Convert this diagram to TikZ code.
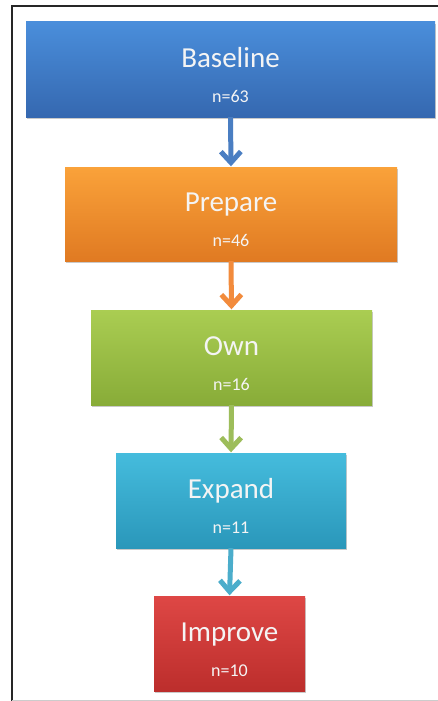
\documentclass[tikz,border=0pt]{standalone}
\usepackage{fontspec}
\setmainfont{Carlito}
\usetikzlibrary{arrows.meta,shadows}
\definecolor{bluetop}{HTML}{4A8EDB}
\definecolor{bluebot}{HTML}{3568B0}
\definecolor{orgtop}{HTML}{FAA23A}
\definecolor{orgbot}{HTML}{E07A22}
\definecolor{grntop}{HTML}{AACD52}
\definecolor{grnbot}{HTML}{88AC38}
\definecolor{cyntop}{HTML}{45BCDD}
\definecolor{cynbot}{HTML}{2A97BA}
\definecolor{redtop}{HTML}{DE4745}
\definecolor{redbot}{HTML}{BC2E2C}
\definecolor{bluearr}{HTML}{4A7EC2}
\definecolor{orgarr}{HTML}{F28B3C}
\definecolor{grnarr}{HTML}{9DBD5A}
\definecolor{cynarr}{HTML}{4BADCB}
\definecolor{txtc}{HTML}{F4F4F4}
\tikzset{
  stagebox/.style={rectangle, inner sep=0pt, draw=none,
    drop shadow={shadow xshift=1pt, shadow yshift=-2pt, opacity=0.35, fill=black!60}},
  titletext/.style={text=txtc, font=\fontsize{29}{32}\selectfont, inner sep=0pt, anchor=base},
  ntext/.style={text=txtc, font=\fontsize{18}{20}\selectfont, inner sep=0pt, anchor=base},
  flowarrow/.style={line width=5pt, -{Straight Barb[length=11pt,width=20pt]}, shorten >=0.5pt}
}
\begin{document}
\begin{tikzpicture}[x=1pt,y=-1pt]
\useasboundingbox (0,0) rectangle (438,701);
\fill[white] (0,0) rectangle (438,701);
% frame
\draw[line width=2pt, black!85] (438,6) -- (12,6) -- (12,701);
\draw[line width=1pt, black!20] (12,700) -- (438,700);
% boxes
\node[stagebox, top color=bluetop, bottom color=bluebot, minimum width=409pt, minimum height=95pt] (base) at (230.5,69.5) {};
\node[stagebox, top color=orgtop, bottom color=orgbot, minimum width=332pt, minimum height=94pt] (prep) at (231,214) {};
\node[stagebox, top color=grntop, bottom color=grnbot, minimum width=281pt, minimum height=95pt] (own) at (231.5,357.5) {};
\node[stagebox, top color=cyntop, bottom color=cynbot, minimum width=230pt, minimum height=95pt] (exp) at (231,500.5) {};
\node[stagebox, top color=redtop, bottom color=redbot, minimum width=151pt, minimum height=95pt] (imp) at (229.5,643.5) {};
% texts
\node[titletext] (baset) at ([yshift=2.5pt]base.center) {Baseline};
\node[ntext] (basen) at ([yshift=-32.5pt]base.center) {n=63};
\node[titletext] (prept) at ([yshift=2.5pt]prep.center) {Prepare};
\node[ntext] (prepn) at ([yshift=-32.5pt]prep.center) {n=46};
\node[titletext] (ownt) at ([yshift=2.5pt]own.center) {Own};
\node[ntext] (ownn) at ([yshift=-32.5pt]own.center) {n=16};
\node[titletext] (expt) at ([yshift=2.5pt]exp.center) {Expand};
\node[ntext] (expn) at ([yshift=-32.5pt]exp.center) {n=11};
\node[titletext] (impt) at ([yshift=2.5pt]imp.center) {Improve};
\node[ntext] (impn) at ([yshift=-32.5pt]imp.center) {n=10};
% arrows
\draw[flowarrow, bluearr] (base.south) -- (prep.north);
\draw[flowarrow, orgarr] (prep.south) -- (own.north);
\draw[flowarrow, grnarr] (own.south) -- (exp.north);
\draw[flowarrow, cynarr] (exp.south) -- (imp.north);
\end{tikzpicture}
\end{document}
